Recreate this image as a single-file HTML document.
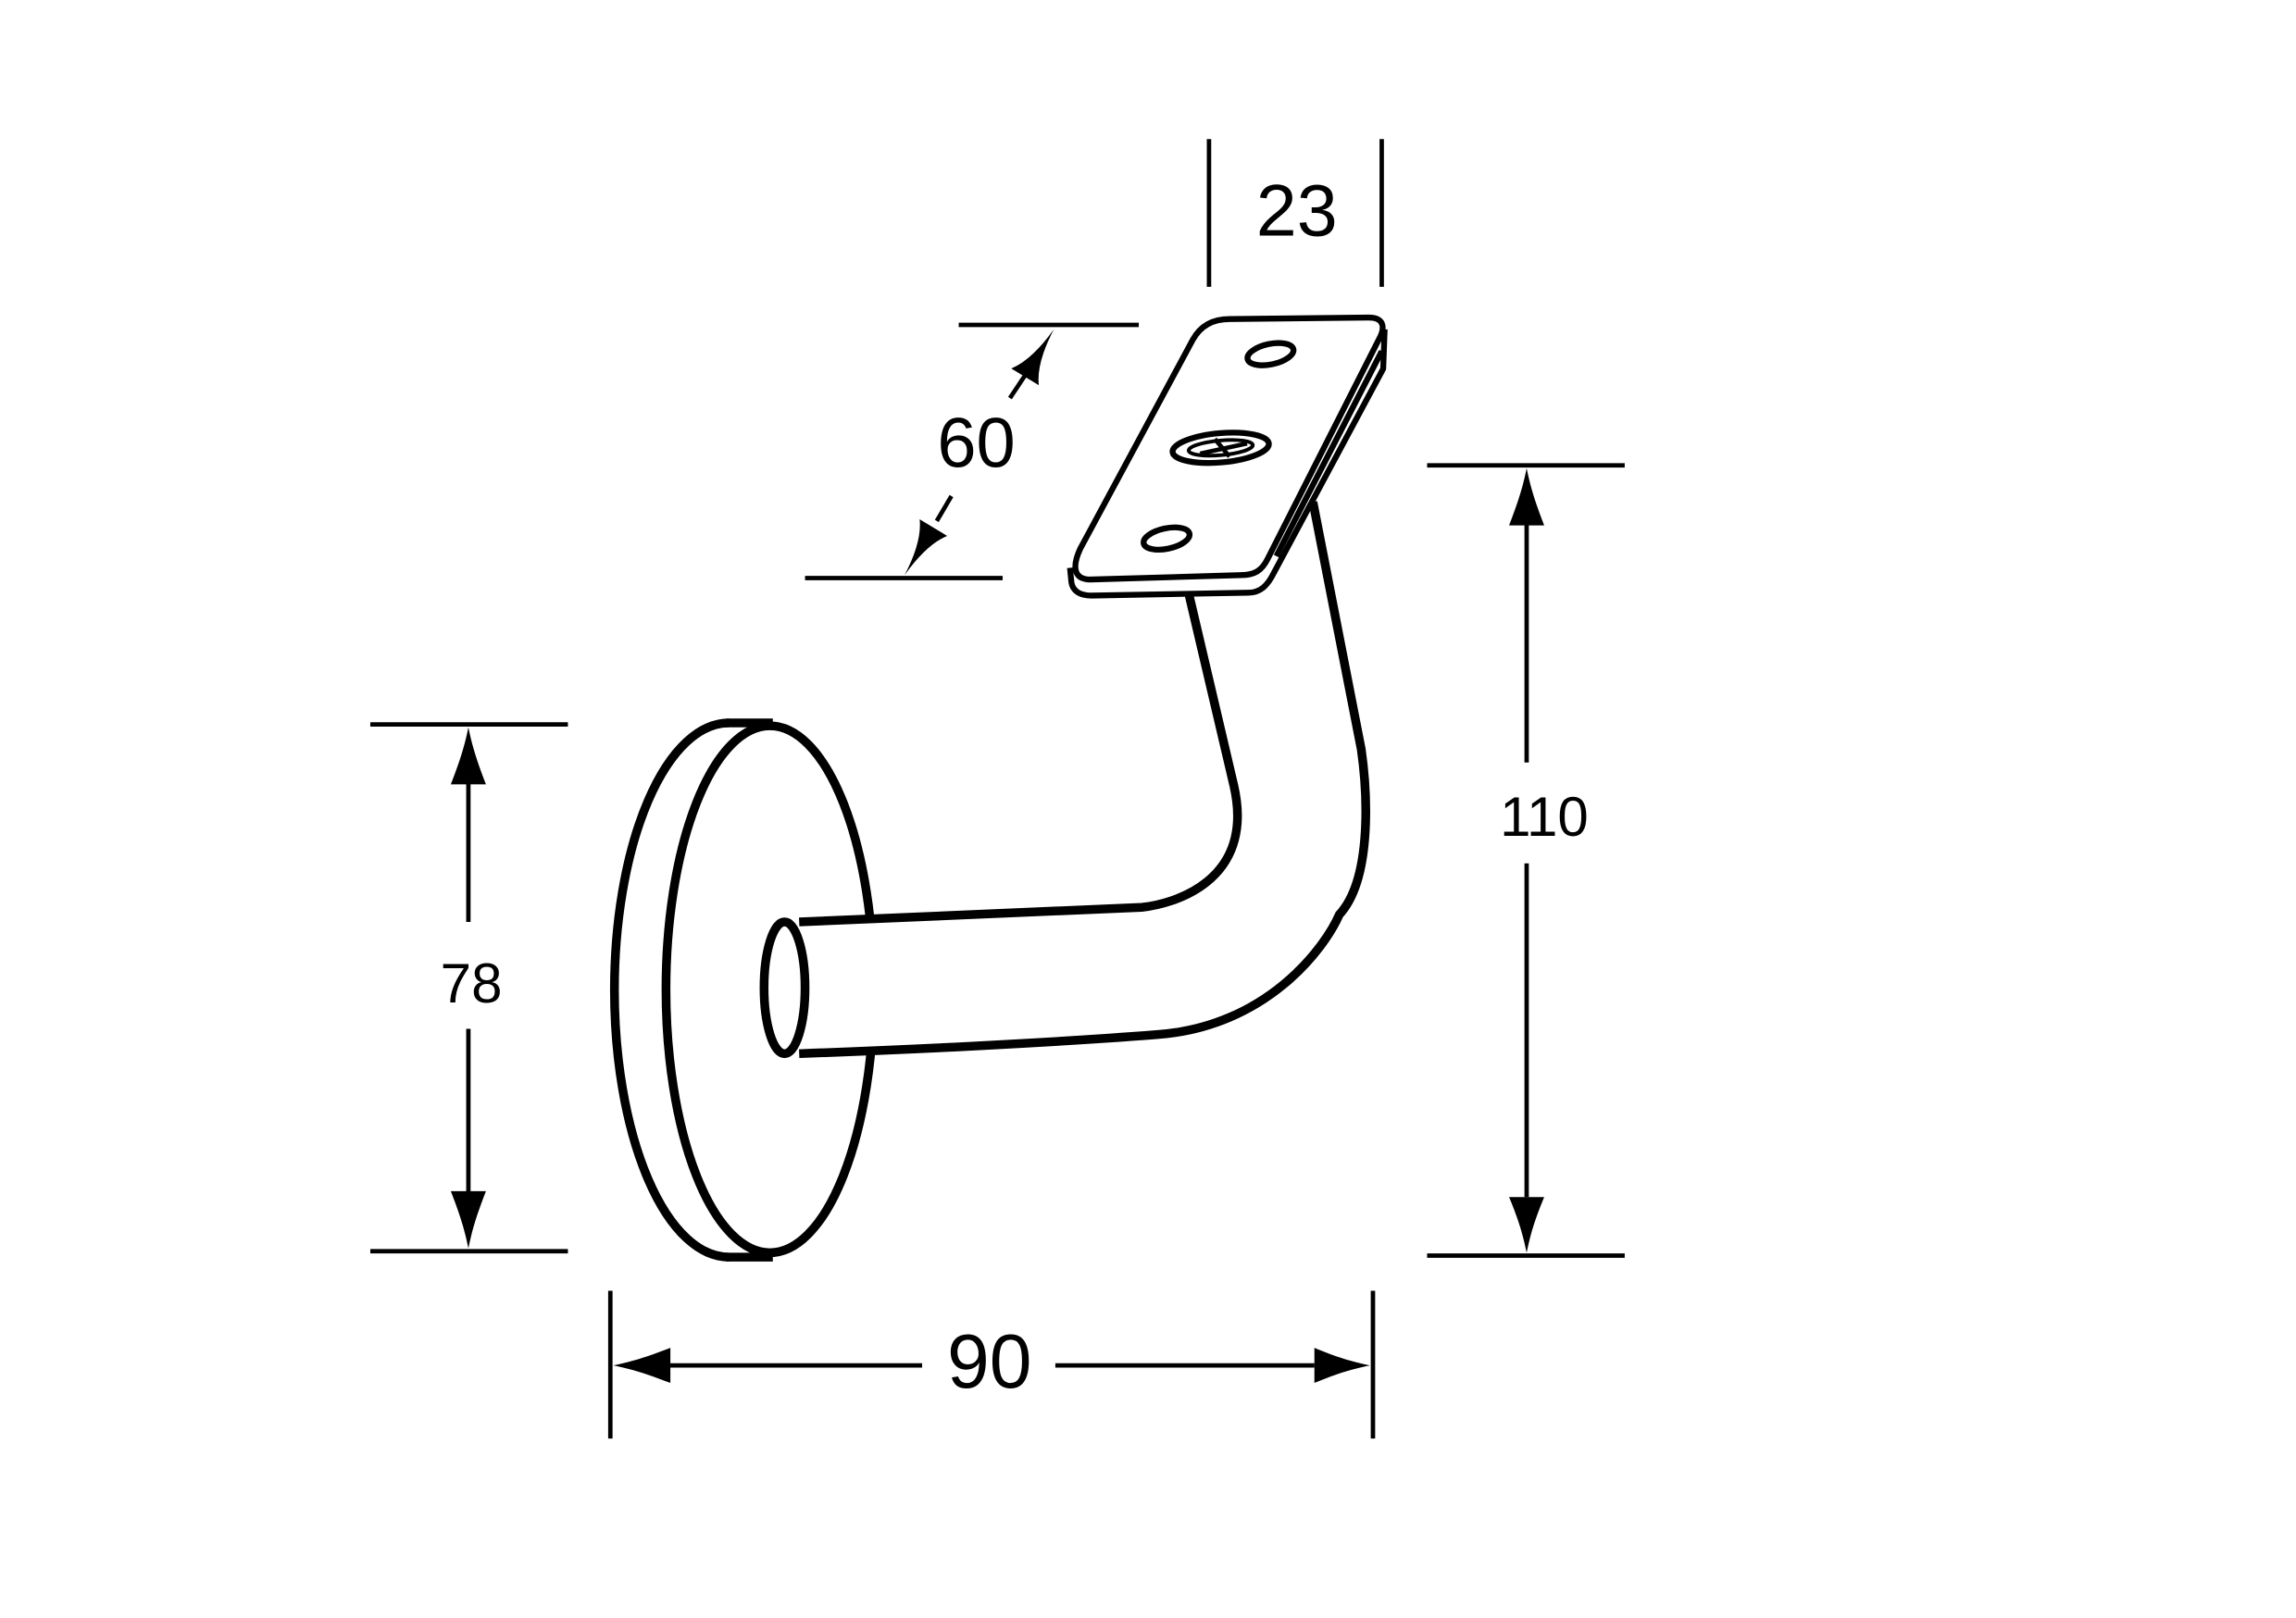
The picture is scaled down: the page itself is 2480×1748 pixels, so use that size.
<!DOCTYPE html>
<html><head><meta charset="utf-8"><style>
html,body{margin:0;padding:0;background:#fff;}
svg{display:block}
text{font-family:"Liberation Sans",sans-serif;fill:#000}
</style></head><body>
<svg width="2480" height="1748" viewBox="0 0 2480 1748" xmlns="http://www.w3.org/2000/svg">
<rect width="2480" height="1748" fill="#fff"/>
<g transform="scale(1.581)" fill="none" stroke="#000" stroke-width="3">
<!-- dim 23 -->
<line x1="826" y1="95" x2="826" y2="196"/>
<line x1="944" y1="95" x2="944" y2="196"/>
<text x="886" y="161" font-size="50" text-anchor="middle" stroke="none">23</text>
<!-- dim 60 -->
<line x1="655" y1="222" x2="778" y2="222"/>
<line x1="550" y1="395" x2="685" y2="395"/>
<line x1="690" y1="272" x2="700" y2="257"/>
<line x1="640" y1="356" x2="650" y2="339"/>
<path d="M720,225 Q708,248 709.7,263.2 L690.9,251.8 Q705,246 720,225Z" fill="#000" stroke="none"/>
<path d="M618,393 Q630,370 628.3,354.8 L647.1,366.2 Q633,372 618,393Z" fill="#000" stroke="none"/>
<text x="667" y="319" font-size="48" text-anchor="middle" stroke="none">60</text>
<!-- dim 110 -->
<line x1="975" y1="318" x2="1110" y2="318"/>
<line x1="975" y1="858" x2="1110" y2="858"/>
<line x1="1043" y1="358" x2="1043" y2="521"/>
<line x1="1043" y1="590" x2="1043" y2="818"/>
<path d="M1043,320 C1040,335 1036,346 1031,359 L1055,359 C1050,346 1046,335 1043,320Z" fill="#000" stroke="none"/>
<path d="M1043,856 C1040,841 1036,830 1031,818 L1055,818 C1050,830 1046,841 1043,856Z" fill="#000" stroke="none"/>
<text x="1055" y="571" font-size="38" text-anchor="middle" stroke="none">110</text>
<!-- dim 78 -->
<line x1="253" y1="495" x2="388" y2="495"/>
<line x1="253" y1="855" x2="388" y2="855"/>
<line x1="320" y1="535" x2="320" y2="630"/>
<line x1="320" y1="703" x2="320" y2="815"/>
<path d="M320,497 C317,512 313,523 308,536 L332,536 C327,523 323,512 320,497Z" fill="#000" stroke="none"/>
<path d="M320,853 C317,838 313,827 308,814 L332,814 C327,827 323,838 320,853Z" fill="#000" stroke="none"/>
<text x="322" y="685" font-size="38" text-anchor="middle" stroke="none">78</text>
<!-- dim 90 -->
<line x1="417" y1="882" x2="417" y2="983"/>
<line x1="938" y1="882" x2="938" y2="983"/>
<line x1="457" y1="933" x2="630" y2="933"/>
<line x1="721" y1="933" x2="898" y2="933"/>
<path d="M419,933 C434,930 445,926 458,921 L458,945 C445,940 434,936 419,933Z" fill="#000" stroke="none"/>
<path d="M936,933 C921,930 910,926 898,921 L898,945 C910,940 921,936 936,933Z" fill="#000" stroke="none"/>
<text x="676" y="948" font-size="52" text-anchor="middle" stroke="none">90</text>
<!-- rosette -->
<g stroke-width="6">
<path d="M498,494 A78,182 0 0 0 498,859" />
<line x1="496" y1="494" x2="528" y2="494"/>
<line x1="496" y1="859" x2="528" y2="859"/>
<ellipse cx="526" cy="676" rx="71" ry="180" fill="#fff"/>
<!-- arm -->
<path d="M546,630 L780,620 C800,618 858,603 843,537 L812,395 L897,335 L930,512 C934,540 938,600 915,625 C905,648 865,702 790,707 C700,714 600,717 546,720 Z" fill="#fff" stroke="none"/>
<path d="M546,630 L780,620 C800,618 858,603 843,537 L812,405"/>
<path d="M546,720 C600,718 700,714 790,707 C865,702 905,648 915,625 C938,600 934,540 930,512 L897,343"/>
<ellipse cx="536" cy="675" rx="14" ry="45" fill="#fff"/>
</g>
<!-- plate -->
<g stroke-width="4" stroke-linejoin="round">
<path d="M946,225 L945,252 L870,392 C866,400 861,405 853,405 L746,407 C738,407 733,404 732,398 L731,388 L940,230 Z" fill="#fff" stroke="none"/>
<path d="M946,225 L945,252 L870,392 C866,400 861,405 853,405 L746,407 C738,407 733,404 732,398 L731,388"/>
<path d="M840,218 L935,217 C945,217 947,223 942,232 L866,382 C862,390 857,393 848,393 L745,396 C734,396 732,388 738,375 L815,232 C820,223 828,218 840,218Z" fill="#fff"/>
<path d="M944,240 L872,380"/>
<ellipse cx="868" cy="242" rx="16" ry="7" transform="rotate(-12 868 242)"/>
<ellipse cx="797" cy="368" rx="16" ry="7" transform="rotate(-12 797 368)"/>
<ellipse cx="834" cy="306" rx="33" ry="10" transform="rotate(-5 834 306)"/>
<ellipse cx="834" cy="306" rx="22" ry="5" transform="rotate(-5 834 306)" stroke-width="2.5"/>
<line x1="820" y1="310" x2="852" y2="303" stroke-width="3"/>
<line x1="830" y1="300" x2="840" y2="312" stroke-width="3"/>
</g>
</g>
</svg>
</body></html>
